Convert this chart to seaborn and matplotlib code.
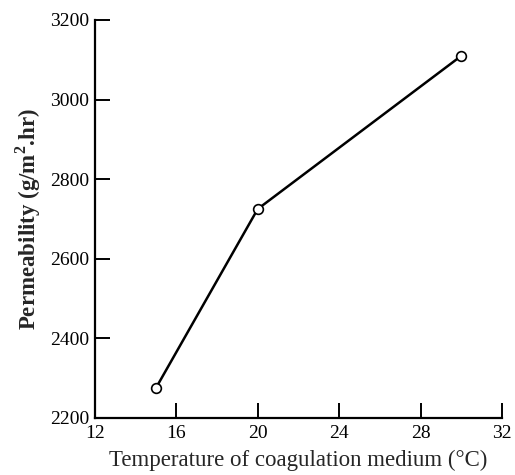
import matplotlib
matplotlib.use("Agg")
import matplotlib.pyplot as plt
import seaborn as sns
import pandas as pd

temperature = [15, 20, 30]
permeability = [2275, 2725, 3110]
x_ticks = [12, 16, 20, 24, 28, 32]
y_ticks = [2200, 2400, 2600, 2800, 3000, 3200]

sns.set_theme(style="ticks")
plt.rcParams['font.family'] = ['Liberation Serif', 'DejaVu Serif']
plt.rcParams['mathtext.fontset'] = 'custom'
plt.rcParams['mathtext.rm'] = 'Liberation Serif'
plt.rcParams['mathtext.bf'] = 'Liberation Serif:bold'

df = pd.DataFrame({"t": temperature, "p": permeability})

fig = plt.figure(figsize=(5.15, 4.75), dpi=100)
ax = fig.add_axes([0.184, 0.12, 0.791, 0.838])
sns.lineplot(data=df, x="t", y="p", ax=ax, color="black", linewidth=1.8,
             marker="o", markersize=7, markerfacecolor="white",
             markeredgecolor="black", markeredgewidth=1.2)

ax.set_xlim(12, 32)
ax.set_ylim(2200, 3200)
ax.set_xticks(x_ticks)
ax.set_yticks(y_ticks)
ax.set_xticklabels([str(v) for v in x_ticks])
ax.set_yticklabels([str(v) for v in y_ticks])
for s in ["top", "right"]:
    ax.spines[s].set_visible(False)
for s in ["left", "bottom"]:
    ax.spines[s].set_linewidth(1.6)
    ax.spines[s].set_color("black")
ax.tick_params(axis="both", direction="in", length=11, width=1.4, labelsize=14,
               colors="black")
ax.tick_params(axis="x", pad=5)
ax.tick_params(axis="y", pad=4)
ax.set_xlabel("Temperature of coagulation medium (°C)", fontsize=16.5, labelpad=6)
ax.set_ylabel("Permeability (g/m$^{\\mathbf{2}}$.hr)", fontsize=16.5, fontweight="bold", labelpad=5)

fig.savefig("out.png", dpi=100)
